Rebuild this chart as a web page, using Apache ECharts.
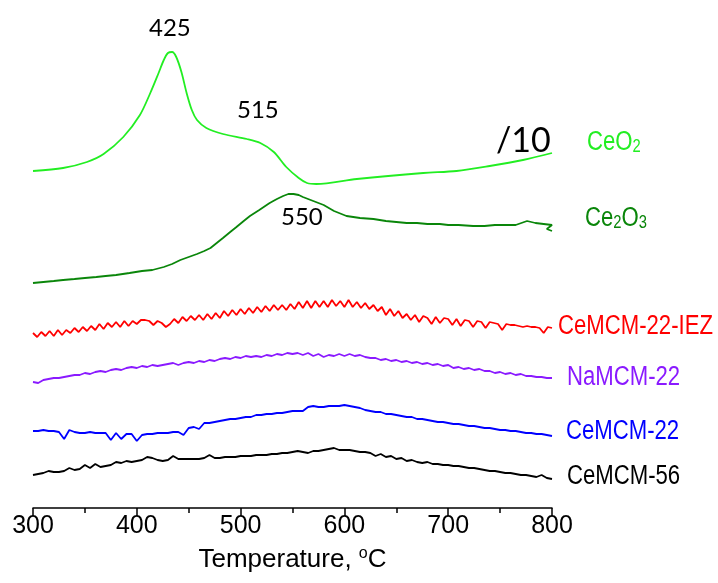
<!DOCTYPE html>
<html>
<head>
<meta charset="utf-8">
<title>TPR profiles</title>
<script src="https://cdn.jsdelivr.net/npm/echarts@6.0.0/dist/echarts.min.js"></script>
<style>
  html, body { margin: 0; padding: 0; background: #fff; }
  #chart { width: 718px; height: 583px; }
</style>
</head>
<body>
<div id="chart"></div>
<script>
// temperature grids (°C)
const temps5 = [300,305,310,315,320,325,330,335,340,345,350,355,360,365,370,375,380,385,390,395,
  400,405,410,415,420,425,430,435,440,445,450,455,460,465,470,475,480,485,490,495,
  500,505,510,515,520,525,530,535,540,545,550,555,560,565,570,575,580,585,590,595,
  600,605,610,615,620,625,630,635,640,645,650,655,660,665,670,675,680,685,690,695,
  700,705,710,715,720,725,730,735,740,745,750,755,760,765,770,775,780,785,790,795,800]
const temps4 = [300,304,308,312,316,320,324,328,332,336,340,344,348,352,356,360,364,368,372,376,
  380,384,388,392,396,400,404,408,412,416,420,424,428,432,436,440,444,448,452,456,
  460,464,468,472,476,480,484,488,492,496,500,504,508,512,516,520,524,528,532,536,
  540,544,548,552,556,560,564,568,572,576,580,584,588,592,596,600,604,608,612,616,
  620,624,628,632,636,640,644,648,652,656,660,664,668,672,676,680,684,688,692,696,
  700,704,708,712,716,720,724,728,732,736,740,744,748,752,756,760,764,768,772,776,
  780,784,788,792,796,800]

// CeO2 (/10)
const ceo2T = [300,329,352,368,387,403,413,421,426,430,434,438,443,448,453,458,467,483,506,519,532,544,556,564,573,612,676,708,740,772,800]
const ceo2V = [337,340,346,354,371,393,415,435,448,455,456,451,436,415,398,388,380,374,369,365,356,341,330,325,324,329,335,337,342,348,355]

// Ce2O3
const ce2o3T = [300,310,320,329,340,350,361,370,380,393,405,415,426,434,442,450,458,465,471,477,483,490,496,503,509,518,528,535,541,546,551,556,560,570,580,590,602,615,628,640,650,660,670,680,692,700,710,724,735,745,756,765,776,784,792,800,795,800]
const ce2o3V = [225,226,227,228,229,230,231,232,233,235,237,238,241,244,248,251,254,257,260,265,270,276,281,287,292,298,305,309,312,314,314,313,311,307,303,297,292,290,289,287,286,285,285,284,284,283,283,282,282,283,283,283,287,285,284,283,279,277]

// CeMCM-22-IEZ (on temps4)
const iezV = [175,171,176,172,177,172,178,173,178,175,
  180,176,181,177,182,178,184,179,185,181,
  186,181,187,182,187,184,188,188,187,183,
  187,185,181,184,189,185,191,187,192,188,
  193,188,194,189,195,190,197,192,198,193,
  199,194,200,195,201,196,202,197,203,198,
  203,198,204,199,206,200,207,200,207,201,
  207,201,208,202,207,201,208,201,206,200,
  205,199,203,197,201,193,199,192,197,190,
  194,188,193,186,192,190,184,191,185,190,
  189,183,189,182,188,187,181,187,186,180,
  186,185,184,178,184,183,183,182,181,182,
  181,181,180,175,181,180]

// NaMCM-22 (on temps5)
const naV = [126,125,128,129,130,130,131,132,133,133,
  135,134,136,137,136,138,139,138,140,141,
  140,142,141,143,142,143,144,145,143,145,
  146,145,147,146,148,147,149,150,149,151,
  150,152,151,152,151,153,152,154,153,155,
  154,155,153,155,152,154,151,153,152,154,
  152,154,152,153,151,150,150,148,149,147,
  148,146,147,145,146,144,145,143,144,142,
  143,140,141,139,140,138,139,137,137,135,
  136,134,135,133,134,132,132,131,131,130,130]

// CeMCM-22 (on temps5)
const ce22V = [77,77,78,77,77,76,69,78,76,75,
  75,76,75,75,75,68,75,69,74,74,
  67,73,74,74,75,75,75,76,76,73,
  80,81,79,85,85,86,87,88,89,89,
  90,91,91,93,93,94,94,95,95,96,
  97,97,97,101,102,101,101,102,102,102,
  103,102,101,100,98,97,96,96,94,94,
  93,92,91,91,89,89,88,87,86,86,
  85,84,84,83,82,82,81,80,80,79,
  78,78,77,77,76,75,75,74,74,73,72]

// CeMCM-56 (on temps5)
const ce56V = [33,34,35,37,36,36,37,40,38,39,
  43,40,44,41,42,43,46,45,47,46,
  47,48,51,50,48,47,48,52,49,49,
  49,49,49,50,53,50,50,51,51,51,
  52,52,52,53,53,53,54,54,55,55,
  56,57,56,55,57,57,58,59,60,58,
  58,58,57,56,56,55,52,54,51,52,
  49,50,47,48,46,45,46,44,44,43,
  43,42,42,41,40,40,39,38,37,37,
  36,35,35,34,33,33,32,31,33,30,29]

const xTicks = [300, 400, 500, 600, 700, 800]

const pairs = (xs, ys) => xs.map((x, i) => [x, ys[i]])

const sans = '"Liberation Sans", Arial, sans-serif'
const calib = 'Lato, "Open Sans", sans-serif'

const mkLine = (name, data, color, smooth) => ({
  name,
  type: 'line',
  data,
  showSymbol: false,
  symbol: 'none',
  smooth: smooth || false,
  lineStyle: { color, width: 1.8 },
  emphasis: { disabled: true }
})

// series names, squeezed horizontally like the original
const label = (x, y, text, color, rich) => ({
  type: 'text',
  x,
  y,
  scaleX: 0.82,
  style: {
    text,
    fill: color,
    font: '27px ' + sans,
    align: 'left',
    verticalAlign: 'middle',
    rich: rich || undefined
  }
})

const subRich = (color) => ({
  n: { fontSize: 27, fontFamily: sans, color: color, verticalAlign: 'bottom', lineHeight: 30 },
  s: { fontSize: 18, fontFamily: sans, color: color, verticalAlign: 'bottom', lineHeight: 26 }
})

const chart = echarts.init(document.getElementById('chart'))
chart.setOption({
  animation: false,
  backgroundColor: '#fff',
  grid: { left: 33, right: 166, top: 8, bottom: 75, outerBoundsMode: 'none' },
  xAxis: {
    type: 'value',
    min: xTicks[0],
    max: xTicks[xTicks.length - 1],
    interval: 100,
    name: 'Temperature, {sup|o}C',
    nameLocation: 'middle',
    nameGap: 38,
    nameTextStyle: {
      fontSize: 26, fontFamily: sans, color: '#000',
      rich: { sup: { fontSize: 16, fontFamily: sans, color: '#000', verticalAlign: 'top', padding: [0, 0, 12, 0] } }
    },
    axisLine: { show: true, onZero: false, lineStyle: { color: '#000', width: 1.5 } },
    axisTick: { show: true, length: 8, lineStyle: { color: '#000', width: 1.5 } },
    minorTick: { show: true, splitNumber: 2, length: 5, lineStyle: { color: '#000', width: 1.5 } },
    axisLabel: { fontSize: 25, fontFamily: sans, color: '#000', margin: 6 },
    splitLine: { show: false }
  },
  yAxis: { type: 'value', min: 0, max: 500, show: false },
  series: [
    mkLine('CeO2', pairs(ceo2T, ceo2V), '#22ee22', 0.3),
    mkLine('Ce2O3', pairs(ce2o3T, ce2o3V), '#0a860a'),
    mkLine('CeMCM-22-IEZ', pairs(temps4, iezV), '#ff0000'),
    mkLine('NaMCM-22', pairs(temps5, naV), '#8a1aff'),
    mkLine('CeMCM-22', pairs(temps5, ce22V), '#0000ff'),
    mkLine('CeMCM-56', pairs(temps5, ce56V), '#000000')
  ],
  graphic: [
    { type: 'text', left: 149, top: 16, style: { text: '425', fill: '#000', font: '24px ' + calib } },
    { type: 'text', left: 237, top: 98, style: { text: '515', fill: '#000', font: '24px ' + calib } },
    { type: 'text', left: 281, top: 205, style: { text: '550', fill: '#000', font: '24px ' + calib } },
    { type: 'text', left: 496, top: 124, style: { text: '/10', fill: '#000', font: '34px ' + calib } },
    label(587, 141, '{n|CeO}{s|2}', '#22ee22', subRich('#22ee22')),
    label(585, 217, '{n|Ce}{s|2}{n|O}{s|3}', '#0a860a', subRich('#0a860a')),
    label(558, 327, 'CeMCM-22-IEZ', '#ff0000'),
    label(567, 378, 'NaMCM-22', '#8a1aff'),
    label(566, 432, 'CeMCM-22', '#0000ff'),
    label(567, 477, 'CeMCM-56', '#000000')
  ]
})
</script>
</body>
</html>
